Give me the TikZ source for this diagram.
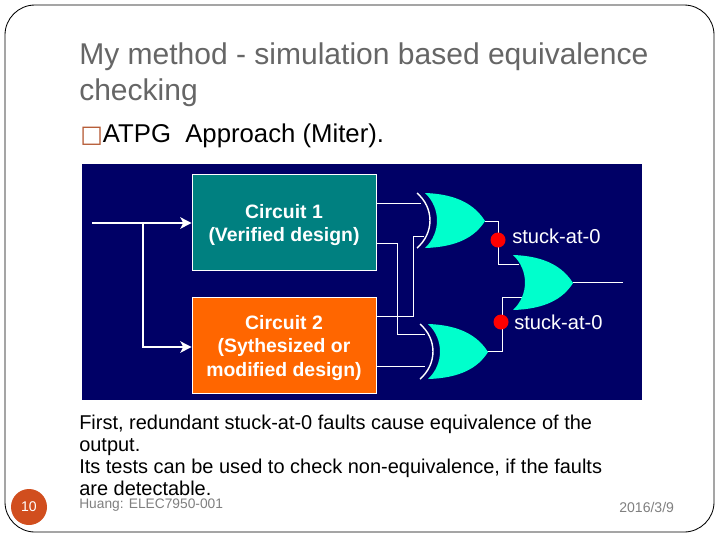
\documentclass[tikz,border=0pt]{standalone}
\usepackage{fontspec}
\setmainfont{Liberation Sans}
\newfontfamily\boxfont{DejaVu Sans}
\usetikzlibrary{calc}
\usetikzlibrary{arrows.meta}
\usetikzlibrary{positioning}
\definecolor{navy}{RGB}{0, 0, 102}
\definecolor{tealbox}{RGB}{0, 128, 128}
\definecolor{orangebox}{RGB}{255, 102, 0}
\definecolor{aqua}{RGB}{0, 255, 204}
\definecolor{faultred}{RGB}{255, 0, 0}
\definecolor{titlegray}{RGB}{102, 102, 102}
\definecolor{footgray}{RGB}{128, 128, 128}
\definecolor{rust}{RGB}{209, 78, 30}
\definecolor{bulletrust}{RGB}{181, 90, 52}
\tikzset{
    circuitbox/.style={draw=white, line width=0.5pt, minimum width=184*0.025cm, minimum height=96*0.025cm},
    boxtext/.style={text=white, align=center, yshift=-2pt, font=\fontsize{13.8}{16.6}\selectfont\bfseries},
    wire/.style={draw=white, line width=0.65pt},
    feed/.style={draw=white, line width=2pt, -{Stealth[length=8pt,width=8pt,inset=2pt]}},
    slabel/.style={text=white, anchor=west, inner sep=0pt, font=\fontsize{14.3}{16}\selectfont},
    fault/.style={circle, fill=faultred, inner sep=0pt, minimum size=15*0.025cm},
    plain/.style={anchor=west, inner sep=0pt, align=left}
}
% or gate: x and y of the top left corner of the body
\newcommand{\orgate}[2]{
    \fill[aqua] (#1,#2) .. controls (#1+32,#2+1) and (#1+50,#2+12) .. (#1+60,#2+28)
        .. controls (#1+50,#2+44) and (#1+32,#2+54) .. (#1,#2+55)
        .. controls (#1+16,#2+40) and (#1+16,#2+15) .. cycle;
}
% the extra white arc in front of a gate
\newcommand{\orshield}[2]{
    \draw[wire, line width=1pt] (#1-8,#2) .. controls (#1+9.3,#2+15) and (#1+9.3,#2+40) .. (#1-8,#2+55);
}

\begin{document}
\begin{tikzpicture}[x=0.025cm, y=-0.025cm]
    \useasboundingbox (0,0) rectangle (720,540);
    \fill[white] (0,0) rectangle (720,540);
    \draw[black, line width=0.6pt, rounded corners=0.75cm] (5,5) rectangle (714,532);

    % title and bullet
    \node[plain, text=titlegray, font=\fontsize{21.35}{25.6}\selectfont] (title) at (79,75)
        {My method - simulation based equivalence\\checking};
    \node[plain, font=\fontsize{18.3}{20}\selectfont] (bullet) at (80,136)
        {{\boxfont\fontsize{17}{20}\selectfont\color{bulletrust}□}ATPG\ \ Approach (Miter).};

    % panel
    \fill[navy] (82,164) rectangle (642,400);
    \node[circuitbox, fill=tealbox, label={[boxtext]center:Circuit 1\\(Verified design)}]   (circuit1) at (284,222) {};
    \node[circuitbox, fill=orangebox, label={[boxtext]center:Circuit 2\\(Sythesized or\\modified design)}] (circuit2) at (284,345) {};

    % input
    \coordinate (in) at (92,223);
    \coordinate (branch) at (143,223);
    \draw[feed] (in) -- (in -| circuit1.west);
    \draw[feed] (branch) |- (circuit2.west |- 0,347);

    \coordinate (g1a) at (421,203);
    \coordinate (g1b) at (424,236);
    \coordinate (g1o) at (485,221);
    \coordinate (g2a) at (425,334);
    \coordinate (g2b) at (425,366);
    \coordinate (g2o) at (487,351);
    \coordinate (g3a) at (519,264);
    \coordinate (g3b) at (522,297);
    \coordinate (g3o) at (573,282);
    \coordinate (out) at (623,282);

    % wires
    \draw[wire] (circuit1.east |- g1a) -- (g1a);
    \draw[wire] (circuit1.east |- 0,243) -- (397,243) |- (g2a);
    \draw[wire] (circuit2.east |- 0,316) -- (413,316) |- (g1b);
    \draw[wire] (circuit2.east |- g2b) -- (g2b);
    \draw[wire] (g1o) -- (498,221) |- (g3a);
    \draw[wire] (g2o) -- (502,351) |- (g3b);
    \draw[wire] (g3o) -- (out);

    % gates
    \orgate{425}{193}
    \orgate{428}{324}
    \orgate{513}{255}
    \orshield{425}{193}
    \orshield{428}{324}

    % faults
    \node[fault] (fault1) at (498,240) {};
    \node[fault] (fault2) at (501,322) {};
    \node[slabel] (stuck1) at (512,236) {stuck-at-0};
    \node[slabel] (stuck2) at (514,322) {stuck-at-0};

    % text below
    \node[plain, font=\fontsize{14.2}{15.65}\selectfont] (body) at (79,455)
        {First, redundant stuck-at-0 faults cause equivalence of the\\output.\\Its tests can be used to check non-equivalence, if the faults\\are detectable.};
    \node[plain, text=footgray, font=\fontsize{9.8}{12}\selectfont] (foot) at (79,505) {Huang: ELEC7950-001};
    \node[plain, text=footgray, font=\fontsize{10}{12}\selectfont] (date) at (619,507) {2016/3/9};
    \node[circle, fill=rust, inner sep=0pt, minimum size=36*0.025cm, text=white, font=\fontsize{10}{12}\selectfont] (page) at (29,507) {10};
\end{tikzpicture}
\end{document}
